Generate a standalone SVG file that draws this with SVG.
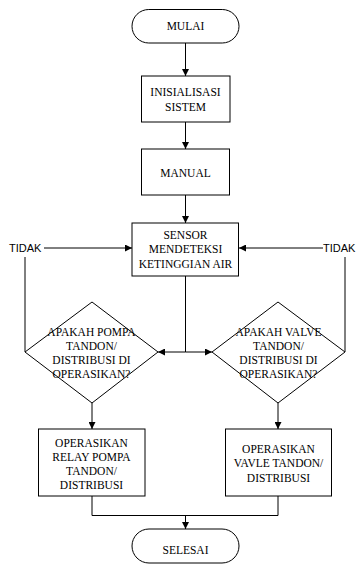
<svg xmlns="http://www.w3.org/2000/svg" width="360" height="566" viewBox="0 0 360 566">
<defs>
<marker id="arr" viewBox="0 0 10 10" refX="10" refY="5" markerWidth="7" markerHeight="7" orient="auto" markerUnits="userSpaceOnUse">
<path d="M0,0 L10,5 L0,10 z" fill="#000"/>
</marker>
<style>
.s{fill:#fff;stroke:#000;stroke-width:1}
.t{font-family:'Liberation Serif','DejaVu Serif',serif;font-size:11.5px;fill:#000;text-anchor:middle}
.l{fill:none;stroke:#000;stroke-width:1}
.a{fill:none;stroke:#000;stroke-width:1;marker-end:url(#arr)}
.k{font-family:'Liberation Sans',Arial,sans-serif;font-size:11px;fill:#000}
</style>
</defs>
<rect width="360" height="566" fill="#fff"/>
<g id="connectors">
<line class="a" x1="185.5" y1="43" x2="185.5" y2="76"/>
<line class="a" x1="185.5" y1="122" x2="185.5" y2="149"/>
<line class="a" x1="185.5" y1="195" x2="185.5" y2="223"/>
<polyline class="l" points="185.5,276 185.5,352"/>
<line class="a" x1="185.5" y1="352" x2="158" y2="352"/>
<line class="a" x1="185.5" y1="352" x2="212" y2="352"/>
<line class="a" x1="92" y1="403" x2="92" y2="429"/>
<line class="a" x1="278" y1="403" x2="278" y2="429"/>
<polyline class="l" points="25,352 25,257"/>
<line class="a" x1="44" y1="248" x2="132" y2="248"/>
<polyline class="l" points="345,352 345,257"/>
<line class="a" x1="323" y1="248" x2="239" y2="248"/>
<polyline class="l" points="92,496 92,515.5 278,515.5 278,496"/>
<line class="a" x1="185.5" y1="515.5" x2="185.5" y2="529"/>
<text class="k" x="9" y="252">TIDAK</text>
<text class="k" x="323" y="252">TIDAK</text>
</g>
<g id="mulai">
<rect class="s" x="132" y="9.5" width="107" height="33.5" rx="16.75"/>
<text class="t" x="185.5" y="30">MULAI</text>
</g>
<g id="inisialisasi">
<rect class="s" x="141.5" y="76" width="88.5" height="46"/>
<text class="t" x="185.5" y="96">INISIALISASI</text>
<text class="t" x="185.5" y="111">SISTEM</text>
</g>
<g id="manual">
<rect class="s" x="141.5" y="149" width="88" height="46"/>
<text class="t" x="185.5" y="176.5">MANUAL</text>
</g>
<g id="sensor">
<rect class="s" x="132" y="223" width="106.5" height="53"/>
<text class="t" x="185.5" y="239">SENSOR</text>
<text class="t" x="185.5" y="253">MENDETEKSI</text>
<text class="t" x="185.5" y="268">KETINGGIAN AIR</text>
</g>
<g id="cek-pompa">
<polygon class="s" points="92,302 158,352 92,403 25,352"/>
<text class="t" x="91.5" y="336">APAKAH POMPA</text>
<text class="t" x="91.5" y="350">TANDON/</text>
<text class="t" x="91.5" y="364">DISTRIBUSI DI</text>
<text class="t" x="91.5" y="378">OPERASIKAN?</text>
</g>
<g id="cek-valve">
<polygon class="s" points="278,302 345,352 278,403 212,352"/>
<text class="t" x="278.5" y="336">APAKAH VALVE</text>
<text class="t" x="278.5" y="350">TANDON/</text>
<text class="t" x="278.5" y="364">DISTRIBUSI DI</text>
<text class="t" x="278.5" y="378">OPERASIKAN?</text>
</g>
<g id="relay-pompa">
<rect class="s" x="38.5" y="429" width="106.5" height="67"/>
<text class="t" x="91.5" y="447">OPERASIKAN</text>
<text class="t" x="91.5" y="461">RELAY POMPA</text>
<text class="t" x="91.5" y="475">TANDON/</text>
<text class="t" x="91.5" y="489">DISTRIBUSI</text>
</g>
<g id="valve-tandon">
<rect class="s" x="225.5" y="429" width="106" height="67"/>
<text class="t" x="278.5" y="453">OPERASIKAN</text>
<text class="t" x="278.5" y="467">VAVLE TANDON/</text>
<text class="t" x="278.5" y="482">DISTRIBUSI</text>
</g>
<g id="selesai">
<rect class="s" x="132" y="529" width="107" height="34" rx="17"/>
<text class="t" x="185.5" y="554">SELESAI</text>
</g>
</svg>
